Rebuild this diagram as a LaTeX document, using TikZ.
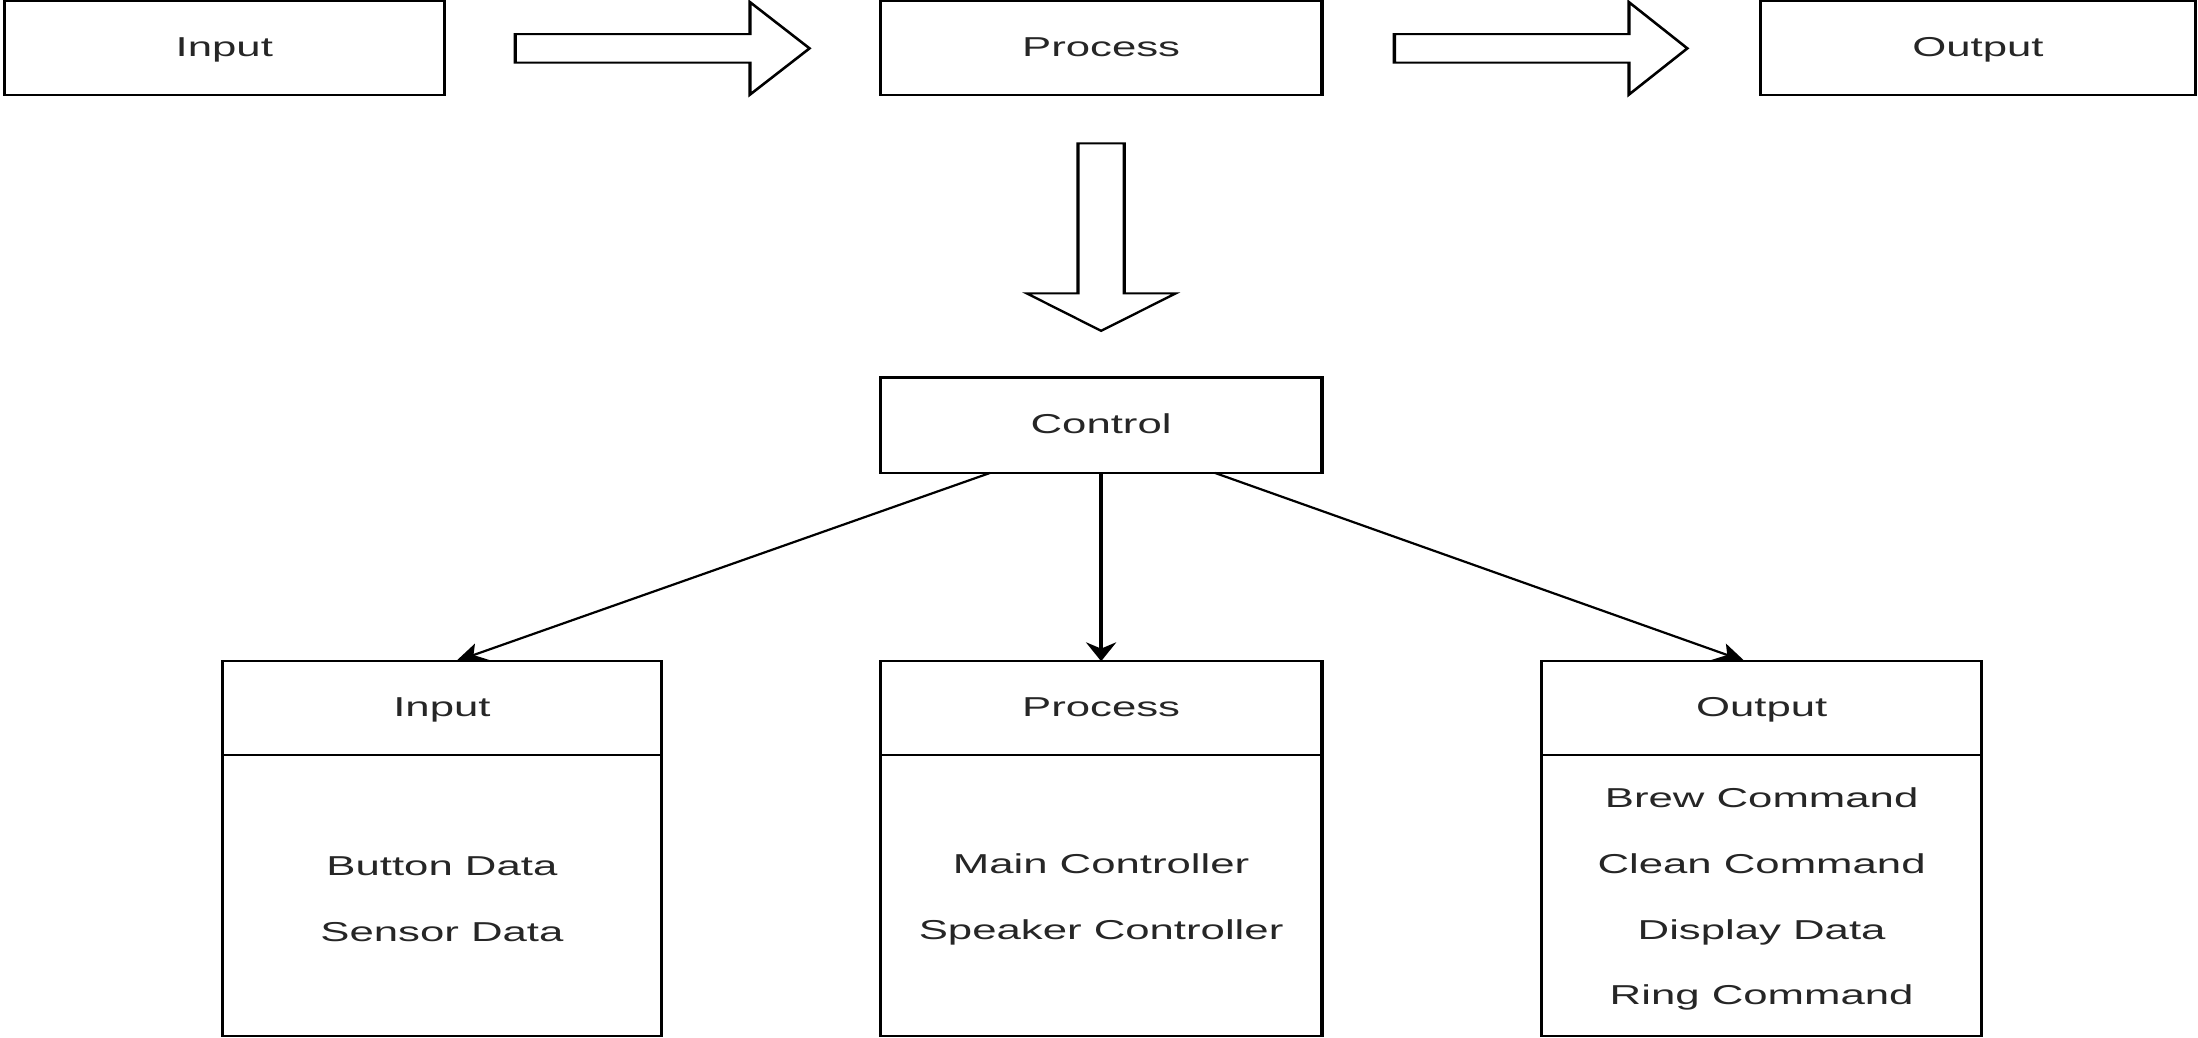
\documentclass[tikz,border=0pt]{standalone}
\usepackage{fontspec}
\setmainfont{Liberation Sans}
\usetikzlibrary{arrows.meta,calc}
\begin{document}
\begin{tikzpicture}[x=1pt,y=-1pt]
\useasboundingbox (0,0) rectangle (1568,740);
\begin{scope}[transform canvas={xscale=1.6},x=0.625pt,y=-1pt,
  box/.style={draw=black,line width=1.45pt,rectangle,inner sep=0pt,outer sep=0pt,
    text=black!85,font=\fontsize{19.5}{47}\selectfont,align=center,
    minimum width=#1*0.625pt},
  oneline/.style={text height=14pt,text depth=2pt},
  blockarrow/.style={draw=black,fill=white,line width=1.45pt,line join=miter},
  conn/.style={draw=black,line width=1.45pt,-{Stealth[length=13.5pt,width=13.5pt,inset=4.5pt]}}]
% top row
\node[box=314,oneline,minimum height=67pt] (tin) at (160,34.5) {Input};
\node[box=315,oneline,minimum height=67pt] (tproc) at (785.5,34.5) {Process};
\node[box=310,oneline,minimum height=67pt] (tout) at (1411,34.5) {Output};
% block arrows
\draw[blockarrow] (367.5,24.3) -- (535,24.3) -- (535,1.5) -- (577.5,34.5) -- (535,67.5) -- (535,44.7) -- (367.5,44.7) -- cycle;
\draw[blockarrow] (994.7,24.3) -- (1162,24.3) -- (1162,1.5) -- (1203.7,34.5) -- (1162,67.5) -- (1162,44.7) -- (994.7,44.7) -- cycle;
\draw[blockarrow] (769,102.3) -- (802,102.3) -- (802,209.3) -- (838.7,209.3) -- (785.5,236) -- (732.5,209.3) -- (769,209.3) -- cycle;
% control
\node[box=315,oneline,minimum height=68pt] (ctrl) at (785.5,303.3) {Control};
% bottom boxes
\node[box=313.5,oneline,minimum height=67pt] (inh) at (315.25,505.2) {Input};
\node[box=313.5,minimum height=200.3pt,anchor=north] (inb) at (inh.south) {};
\node[box=315,oneline,minimum height=67pt] (prh) at (785.5,505.2) {Process};
\node[box=315,minimum height=200.3pt,anchor=north] (prb) at (prh.south) {};
\node[box=314,oneline,minimum height=67pt] (outh) at (1256.7,505.2) {Output};
\node[box=314,minimum height=200.3pt,anchor=north] (outb) at (outh.south) {};
\node[box=200,draw=none,yshift=-2.5pt] (inl) at (inb.center) {Button Data\\Sensor Data};
\node[box=200,draw=none,yshift=-2.5pt] (prl) at (prb.center) {Main Controller\\Speaker Controller};
\node[box=200,draw=none,yshift=-2.5pt] (outl) at (outb.center) {Brew Command\\Clean Command\\Display Data\\Ring Command};
% connectors
\draw[conn] ($(ctrl.south)+(-79,0)$) -- ($(inh.north)+(10,0)$);
\draw[conn] (ctrl.south) -- (prh.north);
\draw[conn] ($(ctrl.south)+(81,0)$) -- ($(outh.north)+(-12,0)$);
\end{scope}
\end{tikzpicture}
\end{document}
